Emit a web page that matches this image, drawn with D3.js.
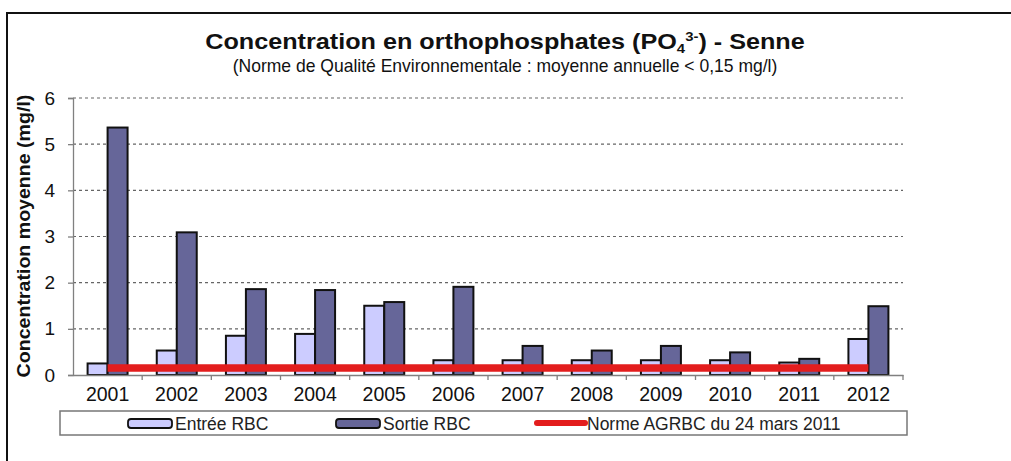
<!DOCTYPE html>
<html>
<head>
<meta charset="utf-8">
<script src="https://cdn.jsdelivr.net/npm/d3@7"></script>
<style>
  html, body { margin: 0; padding: 0; background: #fff; }
  svg { display: block; font-family: "Liberation Sans", Arial, sans-serif; }
</style>
</head>
<body>
<svg id="chart" width="1011" height="461"></svg>
<script>
// Annual mean orthophosphate concentration (mg/l) in the Senne
const years = ["2001","2002","2003","2004","2005","2006","2007","2008","2009","2010","2011","2012"];
const entree = [0.25, 0.53, 0.85, 0.89, 1.50, 0.32, 0.32, 0.32, 0.32, 0.32, 0.27, 0.78];
const sortie = [5.36, 3.09, 1.86, 1.84, 1.58, 1.91, 0.63, 0.53, 0.63, 0.49, 0.35, 1.49];
const norme  = [0.15, 0.15, 0.15, 0.15, 0.15, 0.15, 0.15, 0.15, 0.15, 0.15, 0.15, 0.15];
const yTicks = [0, 1, 2, 3, 4, 5, 6];
const seriesNames = ["Entrée RBC", "Sortie RBC"];
const legendLabels = ["Entrée RBC", "Sortie RBC", "Norme AGRBC du 24 mars 2011"];

const colEntree = "#ccccff", colSortie = "#666699", colNorme = "#e31d1d";

const svg = d3.select("#chart");

// outer frame (runs off the right and bottom edges)
svg.append("rect").attr("x", 7).attr("y", 13).attr("width", 1020).attr("height", 470)
  .attr("fill", "none").attr("stroke", "#111").attr("stroke-width", 2);

const plotLeft = 73, plotRight = 903, plotTop = 98, plotBottom = 375;

const x = d3.scaleBand().domain(years).range([plotLeft, plotRight]).padding(0);
const x1 = d3.scaleBand().domain(seriesNames).range([0, x.bandwidth()])
  .paddingInner(0).paddingOuter(0.73);
const y = d3.scaleLinear().domain([0, 6]).range([plotBottom, plotTop]);

// stretch a text element along its baseline to a given advance length
function stretchTo(sel, length) {
  const w = sel.node().getComputedTextLength();
  const s = length / w;
  const base = sel.attr("transform") || "";
  sel.attr("transform", base + ` scale(${s},1)`);
}

// title
const title = svg.append("text").attr("transform", "translate(505,49)")
  .attr("text-anchor", "middle").attr("font-weight", "bold").attr("font-size", 22)
  .attr("fill", "#111");
title.append("tspan").text("Concentration en orthophosphates (PO");
title.append("tspan").attr("font-size", 13).attr("dy", 4).text("4");
title.append("tspan").attr("font-size", 13).attr("dy", -12).text("3-");
title.append("tspan").attr("dy", 8).text(") - Senne");
stretchTo(title, 600);

const subtitle = svg.append("text").attr("transform", "translate(505,72)").attr("text-anchor", "middle")
  .attr("font-size", 17.5).attr("fill", "#111")
  .text("(Norme de Qualité Environnementale : moyenne annuelle < 0,15 mg/l)");
stretchTo(subtitle, 545);

// gridlines
svg.append("g").selectAll("line").data(yTicks.filter(d => d > 0)).join("line")
  .attr("x1", plotLeft).attr("x2", plotRight)
  .attr("y1", d => y(d)).attr("y2", d => y(d))
  .attr("stroke", "#666").attr("stroke-width", 1.2).attr("stroke-dasharray", "3,3");

// y axis
const yAxis = svg.append("g").attr("transform", `translate(${plotLeft},0)`)
  .call(d3.axisLeft(y).tickValues(yTicks).tickSize(5).tickPadding(13).tickFormat(d3.format("d")));
yAxis.select(".domain").attr("stroke", "#808080").attr("stroke-width", 1.3);
yAxis.selectAll(".tick line").attr("stroke", "#808080").attr("stroke-width", 1.3);
yAxis.selectAll("text").attr("font-size", 19).attr("fill", "#111")
  .attr("font-family", "Liberation Sans, Arial, sans-serif");

const yTitle = svg.append("text").attr("transform", `translate(30,236) rotate(-90)`)
  .attr("text-anchor", "middle").attr("font-weight", "bold").attr("font-size", 18)
  .attr("fill", "#111").text("Concentration moyenne (mg/l)");
stretchTo(yTitle, 283);

// bars
const groups = svg.append("g").selectAll("g").data(years).join("g")
  .attr("transform", d => `translate(${x(d)},0)`);
groups.append("rect")
  .attr("x", x1("Entrée RBC")).attr("width", x1.bandwidth())
  .attr("y", (d, i) => y(entree[i])).attr("height", (d, i) => y(0) - y(entree[i]))
  .attr("fill", colEntree).attr("stroke", "#111").attr("stroke-width", 2);
groups.append("rect")
  .attr("x", x1("Sortie RBC")).attr("width", x1.bandwidth())
  .attr("y", (d, i) => y(sortie[i])).attr("height", (d, i) => y(0) - y(sortie[i]))
  .attr("fill", colSortie).attr("stroke", "#111").attr("stroke-width", 2);

// x axis
const xAxis = svg.append("g").attr("transform", `translate(0,${plotBottom})`)
  .call(d3.axisBottom(x).tickSize(0).tickPadding(12));
xAxis.select(".domain").attr("stroke", "#808080").attr("stroke-width", 1.3);
xAxis.selectAll("text").attr("font-size", 19.5).attr("fill", "#111")
  .attr("font-family", "Liberation Sans, Arial, sans-serif");
// category boundary ticks
svg.append("g").selectAll("line").data(years.slice(1).map(d => x(d)).concat([plotRight])).join("line")
  .attr("x1", d => d).attr("x2", d => d).attr("y1", plotBottom).attr("y2", plotBottom + 5)
  .attr("stroke", "#808080").attr("stroke-width", 1.3);

// norm line
const line = d3.line().x((d, i) => x(years[i]) + x.bandwidth() / 2).y(d => y(d));
svg.append("path").datum(norme).attr("d", line)
  .attr("fill", "none").attr("stroke", colNorme).attr("stroke-width", 7.5);

// legend
const lg = svg.append("g");
lg.append("rect").attr("x", 60).attr("y", 411).attr("width", 847).attr("height", 24)
  .attr("fill", "#fff").attr("stroke", "#777").attr("stroke-width", 1.5);
const items = [
  { x: 128, label: legendLabels[0], type: "bar", color: colEntree },
  { x: 336, label: legendLabels[1], type: "bar", color: colSortie },
  { x: 537, label: legendLabels[2], type: "line", color: colNorme }
];
items.forEach(it => {
  if (it.type === "bar") {
    lg.append("rect").attr("x", it.x).attr("y", 419).attr("width", 44).attr("height", 9)
      .attr("rx", 3).attr("fill", it.color).attr("stroke", "#111").attr("stroke-width", 1.8);
  } else {
    lg.append("line").attr("x1", it.x).attr("x2", it.x + 48).attr("y1", 423).attr("y2", 423)
      .attr("stroke", it.color).attr("stroke-width", 6).attr("stroke-linecap", "round");
  }
  lg.append("text").attr("x", it.x + (it.type === "bar" ? 47 : 50)).attr("y", 429.5)
    .attr("font-size", 17.5).attr("fill", "#222").text(it.label);
});
</script>
</body>
</html>
